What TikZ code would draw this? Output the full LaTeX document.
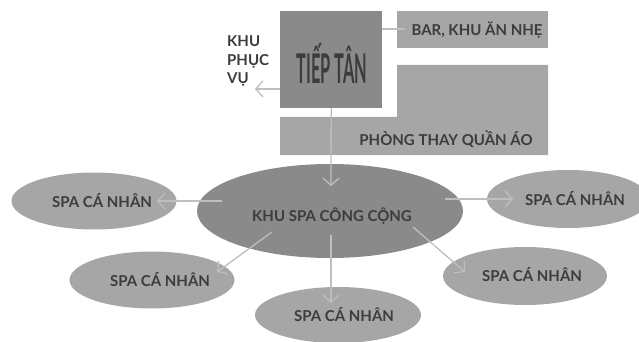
\documentclass[tikz,border=0pt]{standalone}
\usepackage{fontspec}
\setmainfont{Lato}
\usepackage{graphicx}
\usetikzlibrary{arrows.meta,shapes.geometric}
\definecolor{lightfill}{HTML}{A6A6A6}
\definecolor{darkfill}{HTML}{8A8A8A}
\definecolor{linec}{HTML}{BEBEBE}
\definecolor{txt}{HTML}{3C3C3C}
\begin{document}
\begin{tikzpicture}[x=1pt,y=-1pt,
  lbl/.style={text=txt,font=\bfseries\fontsize{15}{17}\selectfont,inner sep=0pt},
  spa/.style={ellipse,fill=lightfill,minimum width=165pt,minimum height=57pt,inner sep=0pt},
  conn/.style={draw=linec,line width=1.3pt,-{Straight Barb[length=7pt,width=16pt]}},
  plainline/.style={draw=linec,line width=1.3pt}]
\useasboundingbox (0,0) rectangle (639,342);
\clip (0,0) rectangle (639,342);
% top boxes
\node[fill=darkfill,minimum width=102pt,minimum height=97pt,inner sep=0pt,anchor=north west] (tt) at (280,11) {};
\node[text=txt,inner sep=0pt] (tttext) at (332,63) {\scalebox{0.40}[1]{\fontsize{41}{44}\selectfont\bfseries TIẾP TÂN}};
\node[fill=lightfill,minimum width=151pt,minimum height=37pt,inner sep=0pt,anchor=north west] (bar) at (397,11) {};
\node[lbl] (bartext) at (477,30) {BAR, KHU ĂN NHẸ};
\path[fill=lightfill] (397,65) -- (548,65) -- (548,155) -- (280,155) -- (280,117) -- (397,117) -- cycle;
\node[lbl] (phong) at (446,139) {PHÒNG THAY QUẦN ÁO};
\node[lbl,align=left,anchor=west,font=\bfseries\fontsize{15}{18.5}\selectfont] (kpv) at (227,61) {KHU\\PHỤC\\VỤ};
% ellipses
\node[ellipse,fill=darkfill,minimum width=266pt,minimum height=94pt,inner sep=0pt] (hub) at (330,211) {};
\node[lbl] (hubtext) at (332,216) {KHU SPA CÔNG CỘNG};
\node[spa] (s1) at (94,201) {};
\node[lbl] at ([xshift=8pt]s1.center) {SPA CÁ NHÂN};
\node[spa] (s2) at (152,280) {};
\node[lbl] at ([xshift=8pt]s2.center) {SPA CÁ NHÂN};
\node[spa,minimum width=166pt,minimum height=56pt] (s3) at (338,315) {};
\node[lbl] at ([xshift=6pt]s3.center) {SPA CÁ NHÂN};
\node[spa,minimum width=164pt,minimum height=58pt] (s4) at (525,276) {};
\node[lbl] at ([xshift=7pt,yshift=1pt]s4.center) {SPA CÁ NHÂN};
\node[spa,minimum width=162pt,minimum height=58pt] (s5) at (568,199) {};
\node[lbl] at ([xshift=7pt]s5.center) {SPA CÁ NHÂN};
% connector end points
\coordinate (hubtop) at (331,186);
\coordinate (kpvtip) at (255,89);
\coordinate (ttw) at (280,89);
\coordinate (tte) at (382,29);
\coordinate (barin) at (405,29);
\coordinate (hl) at (222,201);
\coordinate (s1tip) at (157,201);
\coordinate (hr) at (445,199);
\coordinate (s5tip) at (513,199);
\coordinate (hbl) at (272,232);
\coordinate (s2tip) at (217,272);
\coordinate (hb) at (331,235);
\coordinate (s3tip) at (331,303);
\coordinate (hbr) at (413,227);
\coordinate (s4tip) at (465,272);
% connectors
\draw[conn] (tt.south) -- (hubtop);
\draw[conn] (ttw) -- (kpvtip);
\draw[plainline] (tte) -- (barin);
\draw[conn] (hl) -- (s1tip);
\draw[conn] (hr) -- (s5tip);
\draw[conn] (hbl) -- (s2tip);
\draw[conn] (hb) -- (s3tip);
\draw[conn] (hbr) -- (s4tip);
\end{tikzpicture}
\end{document}
